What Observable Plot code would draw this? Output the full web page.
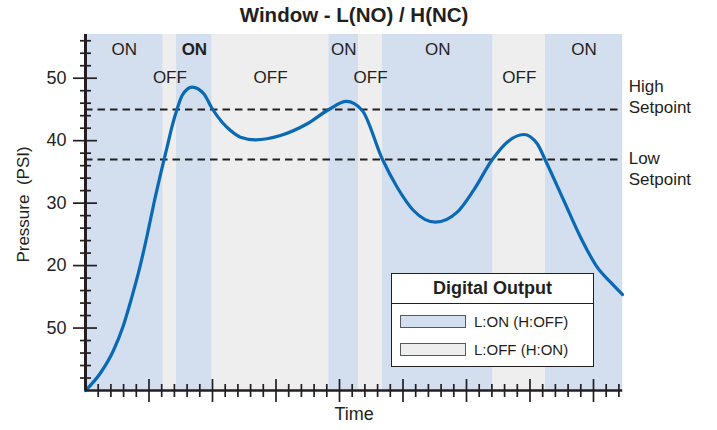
<!DOCTYPE html>
<html>
<head>
<meta charset="utf-8">
<script src="https://cdn.jsdelivr.net/npm/d3@7"></script>
<script src="https://cdn.jsdelivr.net/npm/@observablehq/plot@0.6"></script>
<style>
  html, body { margin: 0; padding: 0; background: #fff; }
  #wrap { position: relative; width: 717px; height: 430px; font-family: "Liberation Sans", Arial, Helvetica, sans-serif; color: #231f20; }
  #wrap svg { display: block; }
  #legend { position: absolute; left: 391px; top: 273px; width: 203px; height: 94px; box-sizing: border-box;
            border: 1.6px solid #231f20; background: #fff; }
  #legend .head { height: 29px; line-height: 29px; text-align: center; font-weight: bold; font-size: 18px;
                  border-bottom: 1.5px solid #231f20; }
  #legend .item { position: absolute; left: 8px; height: 18px; display: flex; align-items: center; font-size: 15px; white-space: nowrap; }
  #legend .sw { width: 66px; height: 13px; box-sizing: border-box; border: 1.5px solid #58595b; margin-right: 8px; }
</style>
</head>
<body>
<div id="wrap"></div>
<script>
// ---------- data ----------
const title = "Window - L(NO) / H(NC)";
const xLabel = "Time";
const yLabel = "Pressure\u00a0\u00a0(PSI)";

// pressure curve (time units, PSI)
const time = [0, 1.18, 2.2, 2.95, 3.6, 4.25, 4.86, 5.4, 6.0, 6.5, 6.83, 7.22, 7.61, 8.4, 9.31, 9.98, 10.76, 11.42, 12.2, 13.39, 15.35, 17.46, 19.13, 20.55, 21.79, 23.36, 24.54, 25.83, 27.56, 29.27, 30.55, 32.02, 33.2, 34.51, 35.57, 36.22, 37.66, 38.98, 40.29, 41.34, 42.28];
const pressure = [0, 2.8, 6.4, 10.2, 14.6, 19.5, 24.9, 30.1, 35.4, 39.6, 42.4, 45.11, 47.24, 48.57, 47.51, 45.11, 42.96, 41.63, 40.56, 40.14, 40.83, 42.71, 44.95, 46.28, 44.84, 37.1, 32.55, 28.82, 26.95, 28.55, 32.03, 36.94, 39.76, 40.99, 39.5, 36.83, 30.42, 24.55, 19.75, 17.34, 15.37];

// output state bands
const bandStart = [0, 6.12, 7.17, 9.98, 19.16, 21.5, 23.39, 32.1, 36.22];
const bandEnd   = [6.12, 7.17, 9.98, 19.16, 21.5, 23.39, 32.1, 36.22, 42.3];
const bandState = ["ON", "OFF", "ON", "OFF", "ON", "OFF", "ON", "OFF", "ON"];
const bandBold  = [false, false, true, false, false, false, false, false, false];

// setpoints
const setpointValues = [45, 37];
const setpointNames = ["High\nSetpoint", "Low\nSetpoint"];

// axis ticks
const yTickValues = [10, 20, 30, 40, 50];
const yTickLabels = ["50", "20", "30", "40", "50"];
const yMinorTicks = [2, 4, 6, 8, 12, 14, 16, 18, 22, 24, 26, 28, 32, 34, 36, 38, 42, 44, 46, 48, 52, 54, 56];
const xMajorTicks = [5, 10, 15, 20, 25, 30, 35, 40];
const xMinorTicks = [1, 2, 3, 4, 6, 7, 8, 9, 11, 12, 13, 14, 16, 17, 18, 19, 21, 22, 23, 24, 26, 27, 28, 29, 31, 32, 33, 34, 36, 37, 38, 39, 41, 42];

// legend
const legendTitle = "Digital Output";
const legendStates = ["ON", "OFF"];
const legendLabels = ["L:ON (H:OFF)", "L:OFF (H:ON)"];

// ---------- build ----------
const ink = "#231f20";
const onColor = "#d3deef";
const offColor = "#eeeeee";
const curveColor = "#0a69b5";

const curve = time.map((t, i) => ({t, p: pressure[i]}));
const bands = bandState.map((s, i) => ({start: bandStart[i], end: bandEnd[i], state: s, bold: bandBold[i], mid: (bandStart[i] + bandEnd[i]) / 2}));
const setpoints = setpointValues.map((v, i) => ({v, name: setpointNames[i]}));

const chart = Plot.plot({
  width: 717,
  height: 430,
  marginLeft: 85,
  marginRight: 94.8,
  marginTop: 34,
  marginBottom: 40,
  x: {domain: [0, 42.3]},
  y: {domain: [0, 57]},
  color: {domain: ["ON", "OFF"], range: [onColor, offColor]},
  style: {fontFamily: "'Liberation Sans', Arial, Helvetica, sans-serif", color: ink, background: "#fff", overflow: "visible"},
  marks: [
    Plot.rect(bands, {x1: "start", x2: "end", fill: "state"}),
    Plot.text(bands.filter(d => d.state === "ON" && !d.bold), {x: "mid", text: "state", frameAnchor: "top", lineAnchor: "middle", dy: 14.8, fontSize: 17, fill: ink}),
    Plot.text(bands.filter(d => d.state === "ON" && d.bold), {x: "mid", text: "state", frameAnchor: "top", lineAnchor: "middle", dy: 14.8, fontSize: 17, fontWeight: "bold", fill: ink}),
    Plot.text(bands.filter(d => d.state === "OFF"), {x: "mid", text: "state", frameAnchor: "top", lineAnchor: "middle", dy: 42.7, fontSize: 17, fill: ink}),
    Plot.ruleY(setpoints, {y: "v", stroke: ink, strokeWidth: 2, strokeDasharray: "7.5,5"}),
    Plot.text(setpoints.slice(0, 1), {y: "v", text: "name", frameAnchor: "right", textAnchor: "start", lineAnchor: "middle", dx: 6, dy: -14, fontSize: 17, lineHeight: 1.27, fill: ink}),
    Plot.text(setpoints.slice(1, 2), {y: "v", text: "name", frameAnchor: "right", textAnchor: "start", lineAnchor: "middle", dx: 6, dy: 8, fontSize: 17, lineHeight: 1.23, fill: ink}),
    Plot.line(curve, {x: "t", y: "p", curve: "monotone-x", stroke: curveColor, strokeWidth: 3.2}),
    // axis lines
    Plot.ruleX([0], {stroke: ink, strokeWidth: 3}),
    Plot.ruleY([0], {stroke: ink, strokeWidth: 2.6}),
    // y ticks
    Plot.axisY({ticks: yTickValues, tickSize: 24, dx: 12, tickFormat: () => "", label: null, stroke: ink, strokeWidth: 1.7}),
    Plot.axisY({ticks: yMinorTicks, tickSize: 11, dx: 6, tickFormat: () => "", label: null, stroke: ink, strokeWidth: 1.7}),
    Plot.axisY({ticks: yTickValues, tickSize: 0, tickPadding: 19, tickFormat: d => yTickLabels[yTickValues.indexOf(d)], label: null, fontSize: 18, fill: ink}),
    // x ticks
    Plot.axisX({ticks: xMajorTicks, tickSize: 23, dy: -11, tickFormat: () => "", label: null, stroke: ink, strokeWidth: 1.7}),
    Plot.axisX({ticks: xMinorTicks, tickSize: 13, dy: -6, tickFormat: () => "", label: null, stroke: ink, strokeWidth: 1.7}),
    // title and axis labels
    Plot.text([title], {text: d => d, frameAnchor: "top", lineAnchor: "middle", dy: -19.5, fontSize: 20.5, fontWeight: "bold", fill: ink}),
    Plot.text([yLabel], {text: d => d, frameAnchor: "left", textAnchor: "middle", lineAnchor: "middle", rotate: -90, dx: -62, dy: -8, fontSize: 17, fill: ink}),
    Plot.text([xLabel], {text: d => d, frameAnchor: "bottom", lineAnchor: "middle", dy: 24, fontSize: 18, fill: ink})
  ]
});

const wrap = document.getElementById("wrap");
wrap.appendChild(chart);

// legend overlay
const legend = document.createElement("div");
legend.id = "legend";
const head = document.createElement("div");
head.className = "head";
head.textContent = legendTitle;
legend.appendChild(head);
const itemTops = [38, 66];
legendLabels.forEach((lab, i) => {
  const item = document.createElement("div");
  item.className = "item";
  item.style.top = itemTops[i] + "px";
  const sw = document.createElement("div");
  sw.className = "sw";
  sw.style.background = legendStates[i] === "ON" ? onColor : offColor;
  const tx = document.createElement("span");
  tx.textContent = lab;
  item.appendChild(sw);
  item.appendChild(tx);
  legend.appendChild(item);
});
wrap.appendChild(legend);
</script>
</body>
</html>
